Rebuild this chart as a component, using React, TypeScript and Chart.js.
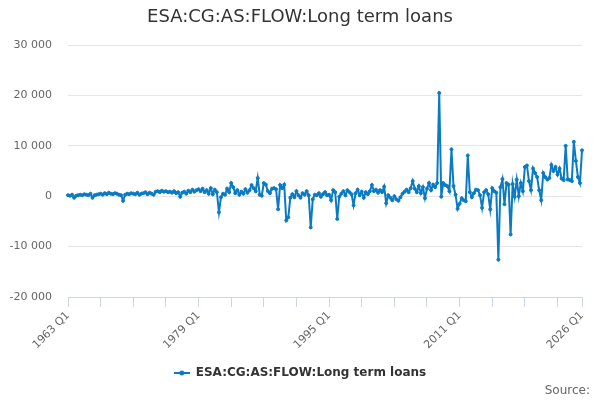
import { useEffect, useRef } from "react";
import { Chart, registerables } from "chart.js";

Chart.register(...registerables);

const seriesName = "ESA:CG:AS:FLOW:Long term loans";
const lineColor = "#0a7bc3";

// quarterly flows, 1963 Q1 .. 2026 Q1
const flows1963to1978 = [
  200, 100, 300, -300, 100, 200, 300, 200, 400, 300, 200, 500, -300, 200, 300, 400,
  500, 300, 600, 400, 700, 500, 400, 600, 500, 300, 200, -900, 300, 500, 400, 600,
  500, 400, 700, 300, 500, 600, 800, 400, 700, 500, 300, 900, 1000, 800, 1100, 900,
  1000, 800, 900, 700, 1000, 600, 800, -100, 700, 900, 500, 1100, 800, 1300, 900, 1200,
];
const flows1979to1994 = [
  1400, 1000, 1500, 800, 1200, 500, 1600, 400, 1300, 800, -3200, -200, 500, 300, 1500, 800,
  2600, 1800, 600, 1200, 300, 900, 500, 1400, 700, 1200, 2200, 1600, 1000, 3600, 300, 100,
  2600, 2300, 1000, 600, 1500, 1600, 1400, -2600, 2200, 1600, 2300, -4800, -4200, -300, 400, -200,
  1000, 200, -300, 600, 300, 1000, 200, -6200, -600, 300, 200, 600, -100, 400, 800, 200,
];
const flows1995to2010 = [
  300, -800, 1200, 800, -4500, -100, 500, 1000, 200, 1200, 800, 400, -1800, 600, 1300, 200,
  900, -300, 800, 400, 1000, 2200, 1000, 1300, 700, 1200, 800, 1900, -1400, 200, -300, -800,
  0, -600, -900, -200, 500, 900, 1300, 800, 1600, 3000, 1500, 800, 2000, 600, 1800, -400,
  1500, 2600, 1200, 2300, 1800, 2600, 20500, -100, 2600, 2200, 2000, 1000, 9300, 2000, 300, -2500,
];
const flows2011to2026 = [
  -1500, -400, -800, -1000, 8100, 800, -200, 600, 1300, 1200, 200, -2300, 800, 1200, 400, -2600,
  1600, 1000, 700, -12600, 1800, 3400, -1600, 2600, 2300, -7600, 2400, -100, 3300, 0, 2600, 1000,
  5800, 6100, 3000, 1200, 5500, 4600, 3800, 1200, -800, 4600, 3800, 3300, 3600, 6200, 5000, 5800,
  4300, 5500, 3500, 3200, 10000, 3300, 3200, 3000, 10800, 7000, 3800, 2600, 9100,
];

const flows = [...flows1963to1978, ...flows1979to1994, ...flows1995to2010, ...flows2011to2026];

const quarterLabels: string[] = [];
for (let year = 1963; year <= 2026; year++) {
  for (let q = 1; q <= 4; q++) {
    if (quarterLabels.length < flows.length) quarterLabels.push(`${year} Q${q}`);
  }
}

const yMin = -20000;
const yMax = 30000;
const yStep = 10000;

const formatThousands = (v: number) => {
  const s = String(Math.abs(v)).replace(/\B(?=(\d{3})+(?!\d))/g, " ");
  return v < 0 ? `-${s}` : s;
};

const makeLegendSymbol = () => {
  const c = document.createElement("canvas");
  c.width = 16;
  c.height = 8;
  const ctx = c.getContext("2d");
  if (ctx) {
    ctx.strokeStyle = lineColor;
    ctx.lineWidth = 2;
    ctx.beginPath();
    ctx.moveTo(0, 4);
    ctx.lineTo(16, 4);
    ctx.stroke();
    ctx.fillStyle = lineColor;
    ctx.beginPath();
    ctx.arc(8, 4, 2.5, 0, Math.PI * 2);
    ctx.fill();
  }
  return c;
};

const sourcePlugin = {
  id: "sourceCredit",
  afterDraw(chart: Chart) {
    const { ctx } = chart;
    ctx.save();
    ctx.font = "12px 'DejaVu Sans'";
    ctx.fillStyle = "#666666";
    ctx.textAlign = "right";
    ctx.textBaseline = "middle";
    ctx.fillText("Source:", chart.width - 10, chart.height - 9);
    ctx.restore();
  },
};

const App = () => {
  const canvasRef = useRef<HTMLCanvasElement>(null);

  useEffect(() => {
    document.body.style.margin = "0";
    let chart: Chart<"line"> | null = null;
    const lastIndex = flows.length - 1;

    if (canvasRef.current) {
      Chart.defaults.font.family = "'DejaVu Sans', sans-serif";
      Chart.defaults.color = "#666666";

      chart = new Chart(canvasRef.current, {
        type: "line",
        data: {
          labels: quarterLabels,
          datasets: [
            {
              label: seriesName,
              data: flows,
              borderColor: lineColor,
              backgroundColor: lineColor,
              borderWidth: 2,
              pointRadius: 1.5,
              pointBorderWidth: 1,
              tension: 0,
            },
          ],
        },
        options: {
          animation: false,
          responsive: true,
          maintainAspectRatio: false,
          layout: { padding: { left: 0, right: 0, top: 0, bottom: 11 } },
          scales: {
            x: {
              type: "category",
              offset: false,
              grid: {
                drawOnChartArea: false,
                drawTicks: true,
                tickLength: 10,
                color: "#ccd6eb",
              },
              border: { display: true, color: "#ccd6eb" },
              ticks: {
                autoSkip: false,
                minRotation: 45,
                maxRotation: 45,
                padding: 2,
                font: { size: 11 },
                color: "#666666",
                callback: (value) => {
                  const i = Number(value);
                  return i % 64 === 0 || i === lastIndex ? quarterLabels[i] : "";
                },
              },
              afterBuildTicks: (scale) => {
                scale.ticks = scale.ticks.filter(
                  (t) => t.value % 16 === 0 || t.value === lastIndex
                );
              },
              afterFit: (scale) => {
                scale.height = 60;
                scale.paddingRight = 18;
              },
            },
            y: {
              min: yMin,
              max: yMax,
              ticks: {
                stepSize: yStep,
                padding: 16,
                font: { size: 11 },
                color: "#666666",
                callback: (value) => formatThousands(Number(value)),
              },
              grid: { color: "#e6e6e6", drawTicks: false },
              border: { display: false },
              afterFit: (scale) => {
                scale.width = 68;
              },
            },
          },
          plugins: {
            title: {
              display: true,
              text: seriesName,
              color: "#333333",
              font: { size: 18, weight: "normal" },
              padding: { top: 7, bottom: 16.4 },
            },
            legend: {
              position: "bottom",
              labels: {
                usePointStyle: true,
                pointStyle: makeLegendSymbol(),
                pointStyleWidth: 16,
                font: { size: 12, weight: "bold" },
                color: "#333333",
                padding: 10,
              },
            },
            tooltip: { enabled: false },
          },
        },
        plugins: [sourcePlugin],
      });
    }

    return () => {
      if (chart) {
        chart.destroy();
      }
    };
  }, []);

  return (
    <div style={{ position: "relative", width: 600, height: 400 }}>
      <canvas ref={canvasRef} />
    </div>
  );
};

export default App;
